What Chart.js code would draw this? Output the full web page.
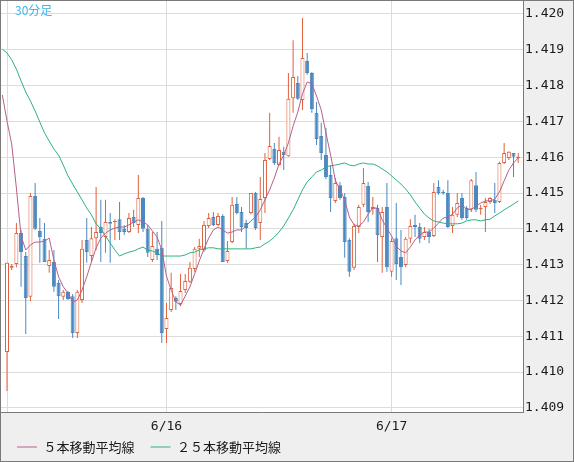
<!DOCTYPE html>
<html><head><meta charset="utf-8">
<script src="https://cdn.jsdelivr.net/npm/chart.js@4.4.0/dist/chart.umd.min.js"></script>
<style>html,body{margin:0;padding:0;background:#efefef}canvas{display:block}</style>
</head><body>
<canvas id="c" width="574" height="462"></canvas>
<script>
const chartTitle = '30分足';
const xTickIndex = [0, 34, 82];
const xTickLabels = ['', '6/16', '6/17'];
const yTickLabels = ['1.409','1.410','1.411','1.412','1.413','1.414','1.415','1.416','1.417','1.418','1.419','1.420'];
const seriesNames = ['５本移動平均線', '２５本移動平均線'];
const maStartIndex = -1;

const open = [
1.41056,1.41291,1.41302,1.41388,1.41324,1.41210,1.41492,1.41394,1.41372,1.41296,
1.41307,1.41249,1.41210,1.41224,1.41212,1.41109,1.41201,1.41369,1.41324,1.41374,
1.41405,1.41377,1.41419,1.41419,1.41427,1.41400,1.41391,1.41433,1.41411,1.41486,
1.41400,1.41313,1.41344,1.41347,1.41120,1.41173,1.41207,1.41190,1.41229,1.41252,
1.41288,1.41344,1.41341,1.41408,1.41433,1.41411,1.41436,1.41310,1.41363,1.41469,
1.41447,1.41416,1.41444,1.41500,1.41416,1.41486,1.41595,1.41623,1.41578,1.41615,
1.41603,1.41765,1.41807,1.41760,1.41869,1.41835,1.41724,1.41659,1.41606,1.41550,
1.41478,1.41522,1.41489,1.41369,1.41291,1.41405,1.41467,1.41520,1.41455,1.41458,
1.41377,1.41461,1.41280,1.41374,1.41321,1.41299,1.41372,1.41411,1.41405,1.41377,
1.41391,1.41380,1.41517,1.41503,1.41500,1.41408,1.41439,1.41486,1.41458,1.41455,
1.41522,1.41455,1.41461,1.41475,1.41481,1.41475,1.41584,1.41598,1.41612,1.41598];
const high = [
1.41305,1.41302,1.41416,1.41397,1.41335,1.41500,1.41528,1.41430,1.41416,1.41341,
1.41341,1.41257,1.41229,1.41226,1.41218,1.41229,1.41369,1.41430,1.41405,1.41517,
1.41481,1.41481,1.41444,1.41427,1.41475,1.41411,1.41444,1.41453,1.41550,1.41489,
1.41411,1.41391,1.41391,1.41422,1.41193,1.41277,1.41212,1.41274,1.41274,1.41307,
1.41349,1.41372,1.41422,1.41444,1.41447,1.41444,1.41441,1.41366,1.41489,1.41489,
1.41461,1.41425,1.41500,1.41503,1.41545,1.41612,1.41724,1.41640,1.41657,1.41629,
1.41835,1.41927,1.41827,1.41989,1.41891,1.41838,1.41754,1.41696,1.41682,1.41578,
1.41542,1.41531,1.41500,1.41374,1.41414,1.41467,1.41570,1.41531,1.41489,1.41467,
1.41461,1.41528,1.41374,1.41472,1.41397,1.41377,1.41427,1.41439,1.41416,1.41405,
1.41400,1.41528,1.41536,1.41509,1.41536,1.41461,1.41500,1.41500,1.41464,1.41539,
1.41559,1.41467,1.41486,1.41489,1.41528,1.41587,1.41640,1.41617,1.41612,1.41612];
const low = [
1.40947,1.41285,1.41293,1.41238,1.41106,1.41198,1.41397,1.41305,1.41307,1.41277,
1.41224,1.41148,1.41201,1.41201,1.41095,1.41095,1.41193,1.41305,1.41307,1.41341,
1.41307,1.41333,1.41305,1.41369,1.41369,1.41383,1.41388,1.41405,1.41388,1.41391,
1.41321,1.41307,1.41313,1.41081,1.41081,1.41168,1.41173,1.41184,1.41221,1.41249,
1.41280,1.41321,1.41335,1.41402,1.41408,1.41408,1.41307,1.41305,1.41360,1.41441,
1.41391,1.41344,1.41441,1.41397,1.41369,1.41444,1.41592,1.41578,1.41576,1.41564,
1.41601,1.41724,1.41760,1.41732,1.41830,1.41724,1.41634,1.41592,1.41539,1.41447,
1.41472,1.41481,1.41319,1.41266,1.41285,1.41388,1.41461,1.41419,1.41439,1.41307,
1.41277,1.41280,1.41266,1.41257,1.41243,1.41293,1.41360,1.41377,1.41360,1.41369,
1.41360,1.41377,1.41495,1.41495,1.41402,1.41388,1.41433,1.41425,1.41425,1.41447,
1.41447,1.41439,1.41391,1.41469,1.41444,1.41472,1.41581,1.41592,1.41545,1.41584];
const close = [
1.41305,1.41296,1.41388,1.41335,1.41207,1.41492,1.41400,1.41377,1.41307,1.41313,
1.41238,1.41212,1.41224,1.41204,1.41109,1.41224,1.41344,1.41335,1.41374,1.41391,
1.41388,1.41419,1.41414,1.41422,1.41391,1.41391,1.41430,1.41416,1.41486,1.41400,
1.41333,1.41352,1.41327,1.41109,1.41151,1.41235,1.41196,1.41226,1.41254,1.41291,
1.41344,1.41352,1.41411,1.41430,1.41411,1.41436,1.41307,1.41338,1.41467,1.41444,
1.41405,1.41402,1.41500,1.41402,1.41483,1.41592,1.41631,1.41584,1.41620,1.41606,
1.41763,1.41824,1.41763,1.41877,1.41835,1.41735,1.41651,1.41612,1.41545,1.41486,
1.41528,1.41486,1.41363,1.41280,1.41408,1.41461,1.41528,1.41447,1.41461,1.41383,
1.41447,1.41293,1.41366,1.41302,1.41293,1.41372,1.41408,1.41405,1.41372,1.41391,
1.41377,1.41503,1.41500,1.41500,1.41405,1.41439,1.41472,1.41430,1.41430,1.41536,
1.41453,1.41458,1.41475,1.41486,1.41472,1.41584,1.41612,1.41615,1.41601,1.41601];
const ma5 = [
1.41774,1.41701,1.41637,1.41514,1.41380,1.41341,1.41355,1.41363,1.41363,1.41366,1.41374,
1.41313,1.41266,1.41238,1.41221,1.41196,1.41201,1.41229,1.41266,1.41307,1.41347,
1.41374,1.41388,1.41397,1.41402,1.41405,1.41405,1.41411,1.41419,1.41425,1.41419,
1.41411,1.41394,1.41377,1.41341,1.41268,1.41229,1.41196,1.41187,1.41212,1.41238,
1.41274,1.41310,1.41344,1.41374,1.41397,1.41405,1.41397,1.41388,1.41391,1.41397,
1.41397,1.41408,1.41422,1.41433,1.41453,1.41481,1.41509,1.41542,1.41581,1.41606,
1.41640,1.41687,1.41726,1.41777,1.41810,1.41805,1.41771,1.41732,1.41668,1.41606,
1.41536,1.41509,1.41481,1.41433,1.41411,1.41408,1.41419,1.41441,1.41458,1.41458,
1.41425,1.41402,1.41380,1.41352,1.41338,1.41333,1.41349,1.41369,1.41383,1.41391,
1.41391,1.41402,1.41416,1.41430,1.41433,1.41441,1.41458,1.41467,1.41455,1.41453,
1.41464,1.41472,1.41478,1.41478,1.41483,1.41503,1.41534,1.41564,1.41584,1.41598];
const ma25 = [
1.41902,1.41891,1.41872,1.41846,1.41813,1.41782,1.41757,1.41729,1.41698,1.41668,1.41645,
1.41623,1.41606,1.41578,1.41548,1.41525,1.41503,1.41481,1.41458,1.41439,1.41414,
1.41400,1.41380,1.41360,1.41341,1.41324,1.41330,1.41335,1.41338,1.41344,1.41349,
1.41341,1.41338,1.41333,1.41324,1.41324,1.41324,1.41324,1.41324,1.41327,1.41333,
1.41335,1.41341,1.41344,1.41347,1.41347,1.41344,1.41344,1.41344,1.41344,1.41344,
1.41344,1.41344,1.41344,1.41347,1.41349,1.41358,1.41366,1.41377,1.41391,1.41408,
1.41430,1.41453,1.41481,1.41509,1.41531,1.41545,1.41559,1.41564,1.41573,1.41576,
1.41578,1.41581,1.41584,1.41578,1.41576,1.41581,1.41584,1.41581,1.41581,1.41576,
1.41567,1.41559,1.41548,1.41536,1.41525,1.41511,1.41495,1.41475,1.41458,1.41441,
1.41430,1.41422,1.41419,1.41416,1.41414,1.41414,1.41414,1.41416,1.41422,1.41425,
1.41425,1.41422,1.41425,1.41427,1.41436,1.41444,1.41453,1.41461,1.41469,1.41478];

const UP = '#e0603c', DOWN = '#4a88c0', MA5C = '#b8608c', MA25C = '#2fb27c';
const idx = open.map((_, i) => i);
const up = idx.map(i => close[i] >= open[i]);
const candleColor = idx.map(i => up[i] ? UP : DOWN);

const frame = {
  id: 'frame',
  beforeDraw(chart) {
    const {ctx, chartArea: a} = chart;
    ctx.save();
    ctx.fillStyle = '#efefef';
    ctx.fillRect(0, 0, chart.width, chart.height);
    ctx.fillStyle = '#ffffff';
    ctx.fillRect(a.left, a.top, a.right - a.left, a.bottom - a.top);
    ctx.restore();
  },
  afterDraw(chart) {
    const {ctx} = chart;
    ctx.save();
    ctx.strokeStyle = '#7a7a7a';
    ctx.lineWidth = 1;
    ctx.strokeRect(0.5, 0.5, chart.width - 1, chart.height - 1);
    ctx.fillStyle = '#3db4ea';
    ctx.font = '12px "Noto Sans CJK JP"';
    ctx.textBaseline = 'middle';
    ctx.fillText(chartTitle, 15, 10.5);
    ctx.restore();
  }
};

new Chart(document.getElementById('c'), {
  data: {
    datasets: [
      { type: 'line', label: seriesNames[0], order: 0,
        data: ma5.map((v, k) => ({x: k + maStartIndex, y: v})),
        borderColor: MA5C, backgroundColor: MA5C, borderWidth: 1, pointRadius: 0, tension: 0 },
      { type: 'line', label: seriesNames[1], order: 1,
        data: ma25.map((v, k) => ({x: k + maStartIndex, y: v})),
        borderColor: MA25C, backgroundColor: MA25C, borderWidth: 1, pointRadius: 0, tension: 0 },
      { type: 'bar', label: 'body', order: 2, grouped: false,
        data: idx.map(i => ({x: i, y: [open[i], close[i]]})),
        backgroundColor: idx.map(i => up[i] ? '#ffffff' : DOWN),
        borderColor: candleColor, borderWidth: 1, borderSkipped: false,
        barThickness: 4, inflateAmount: 0 },
      { type: 'bar', label: 'wick', order: 3, grouped: false,
        data: idx.map(i => ({x: i, y: [low[i], high[i]]})),
        backgroundColor: candleColor, borderWidth: 0,
        barThickness: 1, inflateAmount: 0 }
    ]
  },
  options: {
    responsive: false,
    animation: false,
    devicePixelRatio: 1,
    layout: { padding: { left: 1, top: 1, right: 0, bottom: 0 } },
    plugins: {
      tooltip: { enabled: false },
      legend: {
        position: 'bottom', align: 'start', maxHeight: 37.5,
        labels: {
          filter: item => item.datasetIndex < 2,
          usePointStyle: true, pointStyle: 'line', pointStyleWidth: 20,
          padding: 16, color: '#1a1a1a',
          font: { family: '"Noto Sans CJK JP"', size: 13 }
        }
      }
    },
    scales: {
      x: {
        type: 'linear', min: -1.28, max: 110.02, offset: false,
        afterBuildTicks: s => { s.ticks = xTickIndex.map(v => ({value: v})); },
        afterFit: s => {
          s.height = 12.5; s.paddingLeft = 0; s.paddingRight = 0;
          s._computeLabelArea = () => undefined;
        },
        ticks: { autoSkip: false, maxRotation: 0, padding: 7, color: '#1a1a1a',
          font: { family: '"DejaVu Sans Mono"', size: 13 },
          callback: (v, i) => xTickLabels[i] },
        grid: { color: '#dcdcdc', drawTicks: false, offset: false },
        border: { color: '#7a7a7a' }
      },
      y: {
        type: 'linear', position: 'right', min: 1.408884, max: 1.420363,
        afterBuildTicks: s => { s.ticks = yTickLabels.map(v => ({value: parseFloat(v)})); },
        afterFit: s => { s.width = 51; s.paddingTop = 0; s.paddingBottom = 0; },
        ticks: { autoSkip: false, padding: 2, color: '#1a1a1a',
          font: { family: '"DejaVu Sans Mono"', size: 13 },
          callback: (v, i) => yTickLabels[i] },
        grid: { color: '#dcdcdc', drawTicks: false },
        border: { color: '#7a7a7a' }
      }
    }
  },
  plugins: [frame]
});
</script>
</body></html>
